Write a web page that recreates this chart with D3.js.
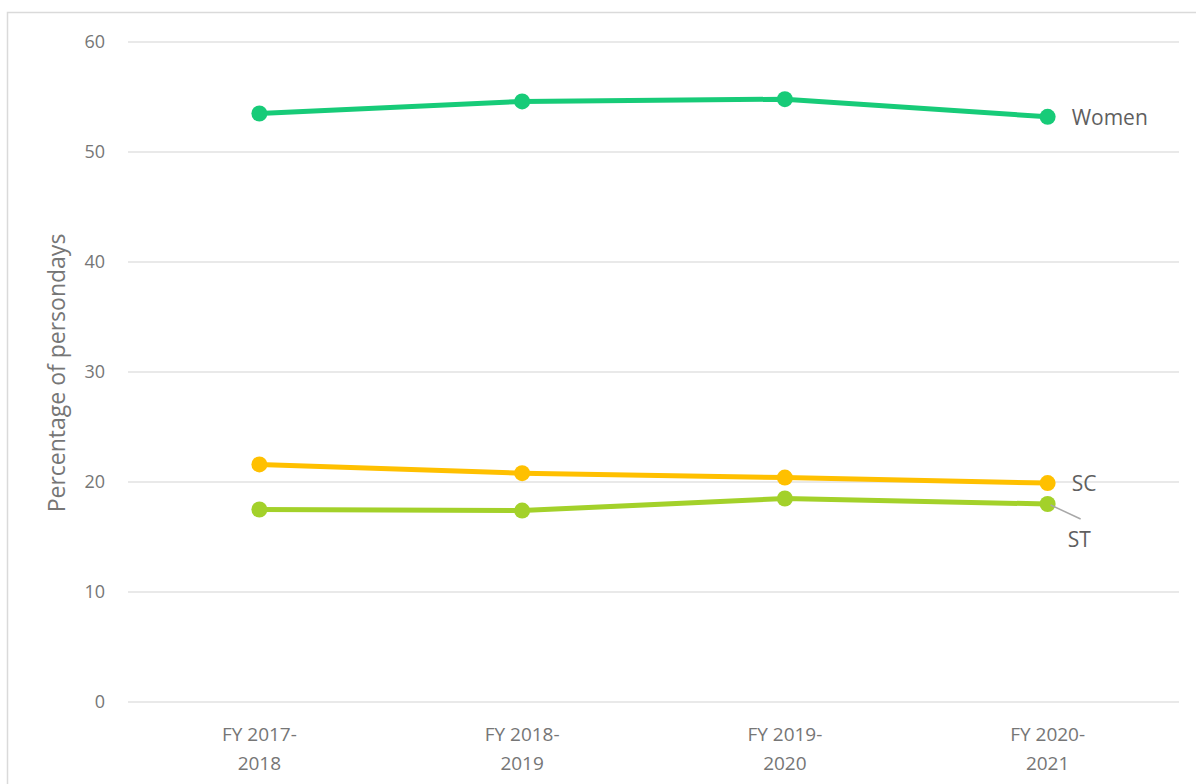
<!DOCTYPE html>
<html>
<head>
<meta charset="utf-8">
<script src="https://cdn.jsdelivr.net/npm/d3@7"></script>
<style>
  html, body { margin: 0; padding: 0; background: #fff; }
  svg { display: block; font-family: "Open Sans", "Noto Sans", sans-serif; }
</style>
</head>
<body>
<svg id="chart" width="1196" height="784"></svg>
<script>
// Share of persondays by group, per financial year
const years = ["FY 2017-2018", "FY 2018-2019", "FY 2019-2020", "FY 2020-2021"];
const yearLines = [["FY 2017-", "2018"], ["FY 2018-", "2019"], ["FY 2019-", "2020"], ["FY 2020-", "2021"]];
const women = [53.5, 54.6, 54.8, 53.2];
const sc = [21.6, 20.8, 20.4, 19.9];
const st = [17.5, 17.4, 18.5, 18.0];
const yTicks = [0, 10, 20, 30, 40, 50, 60];

const seriesList = [
  { name: "Women", values: women, color: "#17CB78" },
  { name: "SC", values: sc, color: "#FFC000" },
  { name: "ST", values: st, color: "#A3D12A" }
];

const FONT = "'Open Sans', 'Noto Sans', sans-serif";
const svg = d3.select("#chart");
const textColor = "#767676";
const labelColor = "#5f5f5f";
const gridColor = "#E2E2E2";

// outer frame
svg.append("rect")
  .attr("x", 7.5).attr("y", 12.5)
  .attr("width", 1200).attr("height", 800)
  .attr("fill", "none").attr("stroke", "#DADADA").attr("stroke-width", 1.5);

const plotLeft = 128, plotRight = 1179, plotTop = 42, plotBottom = 702;

const x = d3.scaleBand().domain(years).range([plotLeft, plotRight]);
const y = d3.scaleLinear().domain([0, 60]).range([plotBottom, plotTop]);

// horizontal gridlines
svg.append("g").selectAll("line").data(yTicks).join("line")
  .attr("x1", plotLeft).attr("x2", plotRight)
  .attr("y1", d => y(d)).attr("y2", d => y(d))
  .attr("stroke", gridColor).attr("stroke-width", 1.5);

// y axis labels
const yAxis = d3.axisLeft(y).tickValues(yTicks).tickSize(0).tickPadding(0);
const gy = svg.append("g").attr("transform", `translate(105,0)`).call(yAxis)
  .attr("font-family", FONT).attr("font-size", 18);
gy.select(".domain").remove();
gy.selectAll("text").attr("fill", textColor);

// x axis labels (two lines)
const xAxis = d3.axisBottom(x).tickSize(0).tickFormat(() => "");
const gx = svg.append("g").attr("transform", `translate(0,${plotBottom})`).call(xAxis)
  .attr("font-family", FONT).attr("font-size", 19);
gx.select(".domain").remove();
gx.selectAll(".tick").each(function(d, i) {
  const t = d3.select(this).append("text")
    .attr("fill", textColor)
    .attr("text-anchor", "middle");
  yearLines[i].forEach((line, j) => {
    t.append("tspan").attr("x", 0).attr("y", 39 + j * 29).text(line);
  });
});

// y axis title
svg.append("text")
  .attr("transform", `translate(65,${(plotTop + plotBottom) / 2 + 1}) rotate(-90)`)
  .attr("text-anchor", "middle")
  .attr("font-family", FONT)
  .attr("fill", textColor).attr("font-size", 23)
  .text("Percentage of persondays");

const cx = d => x(d) + x.bandwidth() / 2;
const line = d3.line().x((d, i) => cx(years[i])).y(d => y(d));

seriesList.forEach(s => {
  const g = svg.append("g");
  g.append("path").datum(s.values)
    .attr("d", line)
    .attr("fill", "none").attr("stroke", s.color)
    .attr("stroke-width", 5).attr("stroke-linejoin", "round");
  g.selectAll("circle").data(s.values).join("circle")
    .attr("cx", (d, i) => cx(years[i])).attr("cy", d => y(d))
    .attr("r", 8).attr("fill", s.color);
});

// series labels at the last point
const lastX = cx(years[years.length - 1]);
const labels = svg.append("g").attr("font-family", FONT).attr("font-size", 21).attr("fill", labelColor);
labels.append("text")
  .attr("x", lastX + 24).attr("y", y(women[3]) + 8).text("Women");
labels.append("text")
  .attr("x", lastX + 24).attr("y", y(sc[3]) + 8).text("SC");
// leader line for ST
svg.append("line")
  .attr("x1", lastX + 3).attr("y1", y(st[3]) + 1)
  .attr("x2", lastX + 33).attr("y2", y(st[3]) + 15)
  .attr("stroke", "#A8A8A8").attr("stroke-width", 1.5);
labels.append("text")
  .attr("x", lastX + 20).attr("y", y(st[3]) + 43).text("ST");
</script>
</body>
</html>
